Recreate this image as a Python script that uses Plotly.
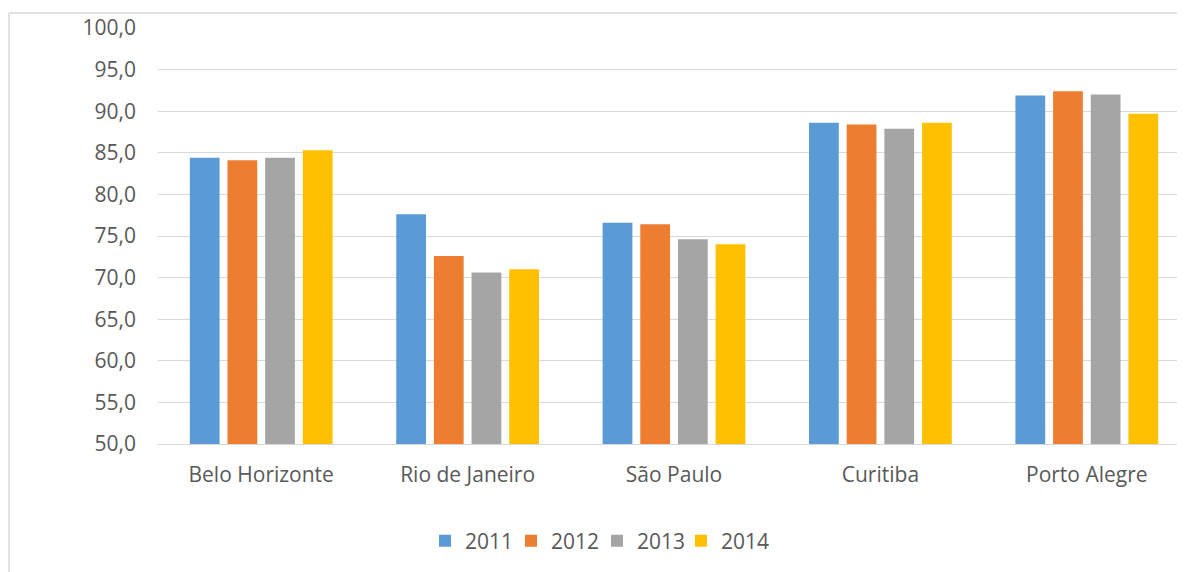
import plotly.graph_objects as go

cities = ["Belo Horizonte", "Rio de Janeiro", "São Paulo", "Curitiba", "Porto Alegre"]
years = ["2011", "2012", "2013", "2014"]
v2011 = [84.4, 77.6, 76.6, 88.6, 91.9]
v2012 = [84.1, 72.6, 76.4, 88.4, 92.4]
v2013 = [84.4, 70.6, 74.6, 87.9, 92.0]
v2014 = [85.3, 71.0, 74.0, 88.6, 89.7]
colors = ["#5B9BD5", "#ED7D31", "#A5A5A5", "#FFC000"]
yticks = [50, 55, 60, 65, 70, 75, 80, 85, 90, 95, 100]

series = [v2011, v2012, v2013, v2014]
FONT = "Open Sans"
TXT = "#595959"
GRID = "#D9D9D9"

legend_ids = ["legend", "legend2", "legend3", "legend4"]
# left edge of each legend swatch in the reference (page pixels)
swatch_left = [443, 529, 615, 699]

fig = go.Figure()
for name, vals, col, lid in zip(years, series, colors, legend_ids):
    fig.add_trace(go.Bar(x=cities, y=vals, name=name, marker_color=col,
                         marker_line_width=0, legend=lid))

W, H = 1185, 572
L, T, R = 150, 20, 3
ph = 416
B = H - T - ph
pw = W - L - R
bx = (1 - L) / pw
by = 1 + (T - 5) / ph

legend_y = (ph - 533 + T) / ph
legends = {}
for lid, sx in zip(legend_ids, swatch_left):
    legends[lid] = dict(orientation="h", x=(sx - 26 - L) / pw, xanchor="left",
                        y=legend_y, yanchor="middle", bgcolor="rgba(0,0,0,0)",
                        font=dict(size=21, color=TXT))

fig.update_layout(
    width=W, height=H,
    margin=dict(l=L, r=R, t=T, b=B, pad=0),
    paper_bgcolor="white", plot_bgcolor="white",
    font=dict(family=FONT, size=21, color=TXT),
    separators=",.",
    barmode="group", bargap=0.27, bargroupgap=0.21,
    showlegend=True,
    xaxis=dict(range=[-0.5, 4.5], showgrid=False,
               showline=True, linecolor=GRID, linewidth=1,
               ticks="", ticklabelstandoff=12, fixedrange=True),
    yaxis=dict(range=[50, 100], tickvals=yticks, tickformat=".1f",
               showgrid=True, gridcolor=GRID, gridwidth=1,
               zeroline=False, showline=False, ticks="",
               ticklabelstandoff=21),
    shapes=[
        dict(type="line", xref="paper", yref="paper", x0=bx, x1=1.2, y0=by, y1=by,
             line=dict(color=GRID, width=1.5)),
        dict(type="line", xref="paper", yref="paper", x0=bx, x1=bx, y0=by, y1=-0.6,
             line=dict(color=GRID, width=1.5)),
    ],
    **legends,
)

fig.write_html("out.html")
